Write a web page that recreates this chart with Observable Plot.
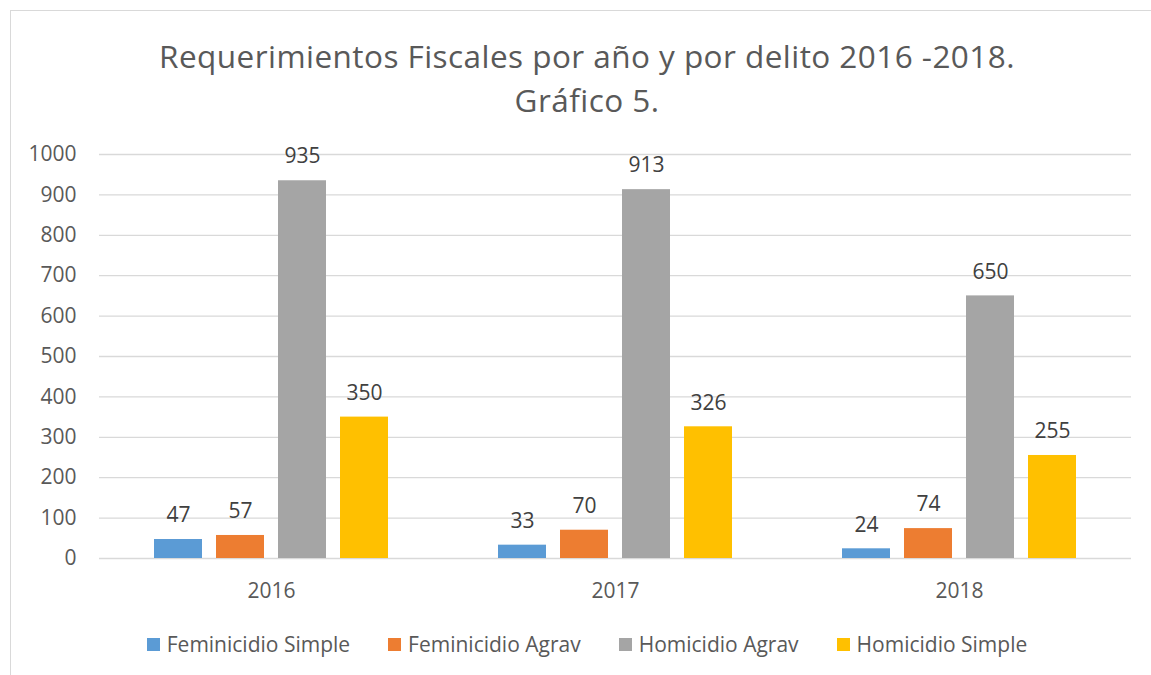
<!DOCTYPE html>
<html><head><meta charset="utf-8">
<script src="https://cdn.jsdelivr.net/npm/d3@7"></script>
<script src="https://cdn.jsdelivr.net/npm/@observablehq/plot@0.6"></script>
<style>
body{margin:0;background:#fff;font-family:"Open Sans",sans-serif;}
#frame{position:absolute;left:10px;top:10px;width:1154px;height:700px;border:1px solid #d9d9d9;box-sizing:border-box;}
.title{position:absolute;left:10px;width:1154px;text-align:center;font-size:31.5px;letter-spacing:0.45px;color:#595959;line-height:43px;height:43px;}
#chart{position:absolute;left:0;top:130px;}
#legend{position:absolute;left:10px;width:1154px;top:632px;display:flex;justify-content:center;gap:38px;font-size:21px;color:#595959;line-height:24px;}
.item{display:flex;align-items:center;gap:7px;}
.sw{width:13px;height:13px;display:inline-block;}
</style></head>
<body>
<div id="frame"></div>
<div class="title" style="top:34px">Requerimientos Fiscales por año y por delito 2016 -2018.</div>
<div class="title" style="top:77.5px">Gráfico 5.</div>
<div id="chart"></div>
<div id="legend"></div>
<script>
const years = ["2016", "2017", "2018"];
const series = ["Feminicidio Simple", "Feminicidio Agrav", "Homicidio Agrav", "Homicidio Simple"];
const feminicidioSimple = [47, 33, 24];
const feminicidioAgrav = [57, 70, 74];
const homicidioAgrav = [935, 913, 650];
const homicidioSimple = [350, 326, 255];
const colors = ["#5b9bd5", "#ed7d31", "#a5a5a5", "#ffc000"];
const yTicks = [0, 100, 200, 300, 400, 500, 600, 700, 800, 900, 1000];

const seriesValues = [feminicidioSimple, feminicidioAgrav, homicidioAgrav, homicidioSimple];
const data = [];
years.forEach((yr, i) => {
  series.forEach((s, j) => data.push({year: yr, series: s, value: seriesValues[j][i]}));
});

const chart = Plot.plot({
  width: 1151, height: 480,
  marginLeft: 98, marginRight: 19, marginTop: 24, marginBottom: 52,
  style: {fontFamily: "Open Sans", fontSize: "21px", color: "#595959", background: "transparent"},
  fx: {domain: years, padding: 0, label: null, tickSize: 0, tickPadding: 25},
  x: {domain: series, paddingInner: 0.22, paddingOuter: 0.86, axis: null},
  y: {domain: [0, 1000], ticks: yTicks, tickSize: 0, tickPadding: 23, label: null, tickFormat: d => String(d)},
  color: {domain: series, range: colors},
  marks: [
    Plot.gridY(yTicks, {stroke: "#d9d9d9", strokeOpacity: 1, strokeWidth: 1.3}),
    Plot.barY(data, {fx: "year", x: "series", y: "value", fill: "series"}),
    Plot.text(data, {fx: "year", x: "series", y: "value", text: d => String(d.value), dy: -24, fill: "#404040"})
  ]
});
document.getElementById("chart").appendChild(chart);

const legend = document.getElementById("legend");
series.forEach((s, i) => {
  const it = document.createElement("div");
  it.className = "item";
  it.innerHTML = `<span class="sw" style="background:${colors[i]}"></span><span>${s}</span>`;
  legend.appendChild(it);
});
</script>
</body></html>
